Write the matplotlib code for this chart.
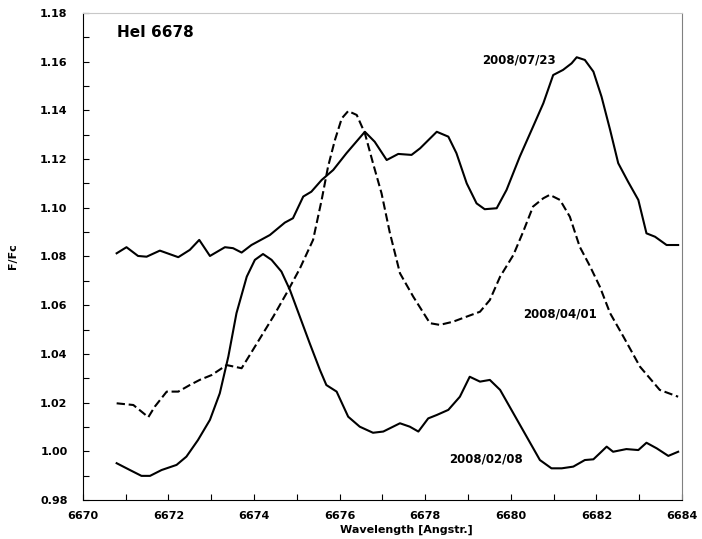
import numpy as np
import matplotlib.pyplot as plt
from matplotlib.ticker import MultipleLocator

plt.rcParams['font.family'] = ['DejaVu Sans']

# 2008/07/23 (solid, top)
wl_0723 = [6670.79, 6671.02, 6671.29, 6671.49, 6671.80, 6672.23, 6672.50, 6672.72,
           6672.97, 6673.32, 6673.51, 6673.71, 6673.94, 6674.37, 6674.72, 6674.91,
           6675.15, 6675.34, 6675.58, 6675.85, 6676.16, 6676.36, 6676.59, 6676.82,
           6677.10, 6677.37, 6677.68, 6677.88, 6678.27, 6678.54, 6678.73, 6678.97,
           6679.20, 6679.39, 6679.67, 6679.90, 6680.21, 6680.52, 6680.76, 6680.99,
           6681.22, 6681.42, 6681.54, 6681.73, 6681.93, 6682.12, 6682.32, 6682.51,
           6682.74, 6682.98, 6683.17, 6683.37, 6683.64, 6683.91]
ff_0723 = [1.0813, 1.0838, 1.0802, 1.0799, 1.0824, 1.0797, 1.0827, 1.0868,
           1.0802, 1.0838, 1.0834, 1.0816, 1.0847, 1.0888, 1.0939, 1.0957,
           1.1046, 1.1066, 1.1114, 1.1155, 1.1224, 1.1265, 1.1312, 1.1271,
           1.1196, 1.1221, 1.1217, 1.1244, 1.1312, 1.1292, 1.1224, 1.1100,
           1.1018, 1.0994, 1.0998, 1.1073, 1.1210, 1.1333, 1.1429, 1.1545,
           1.1566, 1.1593, 1.1618, 1.1607, 1.1559, 1.1456, 1.1320, 1.1183,
           1.1107, 1.1032, 1.0895, 1.0881, 1.0847, 1.0847]

# 2008/04/01 (dashed)
wl_0401 = [6670.79, 6671.18, 6671.37, 6671.53, 6671.68, 6671.96, 6672.23, 6672.50,
           6672.73, 6673.01, 6673.36, 6673.71, 6673.90, 6674.21, 6674.45, 6674.76,
           6675.07, 6675.38, 6675.58, 6675.73, 6675.89, 6676.05, 6676.20, 6676.40,
           6676.59, 6676.78, 6676.98, 6677.17, 6677.41, 6677.72, 6678.11, 6678.34,
           6678.65, 6678.97, 6679.28, 6679.51, 6679.75, 6680.06, 6680.29, 6680.52,
           6680.76, 6680.91, 6681.15, 6681.38, 6681.61, 6681.85, 6682.08, 6682.32,
           6682.63, 6683.02, 6683.48, 6683.91]
ff_0401 = [1.0197, 1.0190, 1.0163, 1.0140, 1.0183, 1.0245, 1.0245, 1.0272,
           1.0293, 1.0313, 1.0354, 1.0341, 1.0395, 1.0484, 1.0553, 1.0649,
           1.0750, 1.0868, 1.1032, 1.1169, 1.1278, 1.1367, 1.1397, 1.1381,
           1.1306, 1.1183, 1.1059, 1.0900, 1.0731, 1.0635, 1.0526, 1.0519,
           1.0532, 1.0553, 1.0573, 1.0621, 1.0717, 1.0806, 1.0902, 1.1005,
           1.1039, 1.1053, 1.1032, 1.0963, 1.0840, 1.0760, 1.0676, 1.0567,
           1.0471, 1.0347, 1.0252, 1.0224]

# 2008/02/08 (solid, bottom)
wl_0208 = [6670.79, 6671.10, 6671.37, 6671.57, 6671.84, 6672.19, 6672.42, 6672.69,
           6672.97, 6673.20, 6673.40, 6673.59, 6673.83, 6674.02, 6674.21, 6674.41,
           6674.64, 6674.84, 6675.07, 6675.30, 6675.54, 6675.69, 6675.93, 6676.20,
           6676.47, 6676.78, 6677.02, 6677.41, 6677.64, 6677.84, 6678.07, 6678.27,
           6678.54, 6678.81, 6679.04, 6679.28, 6679.51, 6679.75, 6680.06, 6680.37,
           6680.68, 6680.95, 6681.19, 6681.46, 6681.73, 6681.93, 6682.08, 6682.24,
           6682.39, 6682.70, 6682.98, 6683.17, 6683.41, 6683.68, 6683.91]
ff_0208 = [0.9951, 0.9923, 0.9899, 0.9899, 0.9923, 0.9944, 0.9978, 1.0046,
           1.0129, 1.0238, 1.0389, 1.0567, 1.0717, 1.0786, 1.0810, 1.0786,
           1.0738, 1.0662, 1.0553, 1.0444, 1.0334, 1.0272, 1.0245, 1.0142,
           1.0101, 1.0076, 1.0081, 1.0115, 1.0101, 1.0081, 1.0135, 1.0149,
           1.0170, 1.0224, 1.0306, 1.0286, 1.0293, 1.0252, 1.0156, 1.0060,
           0.9964, 0.9930, 0.9930, 0.9937, 0.9964, 0.9967, 0.9992, 1.0019,
           0.9998, 1.0009, 1.0005, 1.0035, 1.0012, 0.9981, 0.9998]

fig = plt.figure(figsize=(7.02, 5.39), dpi=100)
ax = fig.add_axes([0.118, 0.0724, 0.8535, 0.9036])

ax.plot(wl_0723, ff_0723, color='black', lw=1.5, solid_joinstyle='round')
ax.plot(wl_0401, ff_0401, color='black', lw=1.5, ls=(0, (4, 1.8)))
ax.plot(wl_0208, ff_0208, color='black', lw=1.5, solid_joinstyle='round')

ax.set_xlim(6670, 6684)
ax.set_ylim(0.98, 1.18)
ax.xaxis.set_major_locator(MultipleLocator(2))
ax.xaxis.set_minor_locator(MultipleLocator(1))
ax.yaxis.set_major_locator(MultipleLocator(0.02))
ax.yaxis.set_minor_locator(MultipleLocator(0.01))
ax.yaxis.set_major_formatter(plt.FormatStrFormatter('%.2f'))
ax.tick_params(which='both', direction='in', top=False, right=False,
               labelsize=8, width=0.8, length=4)
ax.tick_params(axis='x', which='major', pad=8)
ax.tick_params(axis='y', which='major', pad=11)
for lab in ax.get_xticklabels() + ax.get_yticklabels():
    lab.set_fontweight('bold')

ax.spines['left'].set_color('black')
ax.spines['bottom'].set_color('black')
ax.spines['top'].set_color('#c8c8c8')
ax.spines['right'].set_color('#808080')

ax.set_xlabel('Wavelength [Angstr.]', fontsize=8, fontweight='bold')
ax.xaxis.set_label_coords(0.54, -0.05)
ax.set_ylabel('F/Fc', fontsize=8, fontweight='bold')
ax.yaxis.set_label_coords(-0.108, 0.5)

ax.text(6670.79, 1.1718, 'HeI 6678', fontsize=11, fontweight='bold', va='center')
ax.text(6680.19, 1.1607, '2008/07/23', fontsize=8.5, fontweight='bold', ha='center', va='center')
ax.text(6681.15, 1.0564, '2008/04/01', fontsize=8.5, fontweight='bold', ha='center', va='center')
ax.text(6679.42, 0.9967, '2008/02/08', fontsize=8.5, fontweight='bold', ha='center', va='center')

plt.savefig('out.png', dpi=100)
